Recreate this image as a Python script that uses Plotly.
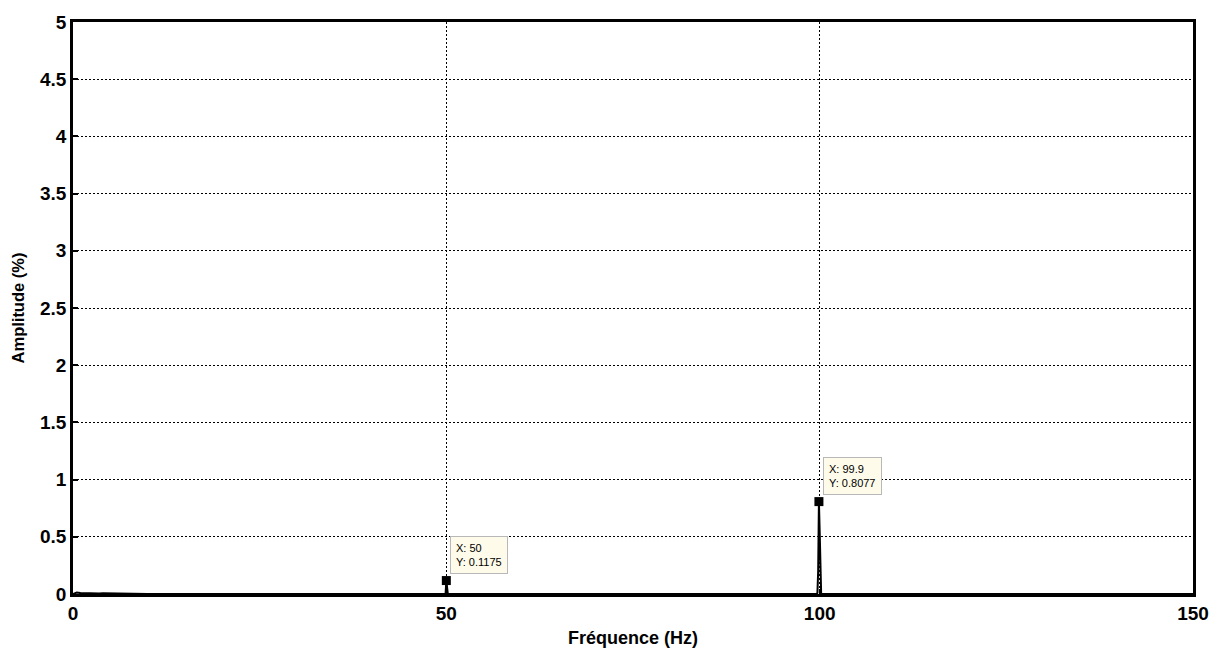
import plotly.graph_objects as go

# Spectrum data (Hz, %)
freq = [0, 0.5, 1.0, 1.5, 2.0, 2.5, 3.0, 3.5, 4.0, 10, 49.8, 49.9, 50.0, 50.1, 50.2,
        99.6, 99.7, 99.8, 99.9, 100.0, 100.1, 100.2, 150]
amp = [0.0, 0.012, 0.008, 0.006, 0.01, 0.006, 0.005, 0.004, 0.006, 0.0, 0.0, 0.002, 0.1175, 0.002, 0.0,
       0.0, 0.01, 0.2, 0.8077, 0.55, 0.02, 0.0, 0.0]

# Data tips
tip_x = [50, 99.9]
tip_y = [0.1175, 0.8077]
tip_text = ["X: 50<br>Y: 0.1175", "X: 99.9<br>Y: 0.8077"]

x_ticks = [0, 50, 100, 150]
y_ticks = [0, 0.5, 1, 1.5, 2, 2.5, 3, 3.5, 4, 4.5, 5]
y_labels = ["0", "0.5", "1", "1.5", "2", "2.5", "3", "3.5", "4", "4.5", "5"]

fig = go.Figure()
fig.add_trace(go.Scatter(x=freq, y=amp, mode="lines",
                         line=dict(color="black", width=2), hoverinfo="skip"))
fig.add_trace(go.Scatter(x=tip_x, y=tip_y, mode="markers",
                         marker=dict(symbol="square", size=9, color="black"),
                         hoverinfo="skip"))

for x, y, t in zip(tip_x, tip_y, tip_text):
    fig.add_annotation(x=x, y=y, text=t, showarrow=False, xref="x", yref="y",
                       xanchor="left", yanchor="bottom", xshift=4, yshift=7,
                       align="left", bgcolor="#fffbeb", bordercolor="#b8b8b8",
                       borderwidth=1, borderpad=5,
                       font=dict(family="Arial", size=11, color="black"))

axis_common = dict(showline=True, linecolor="black", linewidth=2.5, mirror=True,
                   showgrid=True, gridcolor="black", gridwidth=1, griddash="2px,2px",
                   ticks="inside", ticklen=5, tickcolor="black", tickwidth=1.5,
                   zeroline=False,
                   tickfont=dict(family="Arial", size=19, color="black", weight="bold"))

fig.update_xaxes(range=[0, 150], tickvals=x_ticks, ticktext=[str(v) for v in x_ticks],
                 title=dict(text="Fréquence (Hz)", standoff=9,
                            font=dict(family="Arial", size=18, color="black", weight="bold")),
                 **axis_common)
fig.update_yaxes(range=[0, 5], tickvals=y_ticks, ticktext=y_labels,
                 title=dict(text="Amplitude (%)", standoff=12,
                            font=dict(family="Arial", size=16.5, color="black", weight="bold")),
                 **axis_common)

fig.update_layout(width=1224, height=657, showlegend=False,
                  plot_bgcolor="white", paper_bgcolor="white",
                  margin=dict(l=73, r=31, t=15, b=61))

fig.write_html("out.html")
